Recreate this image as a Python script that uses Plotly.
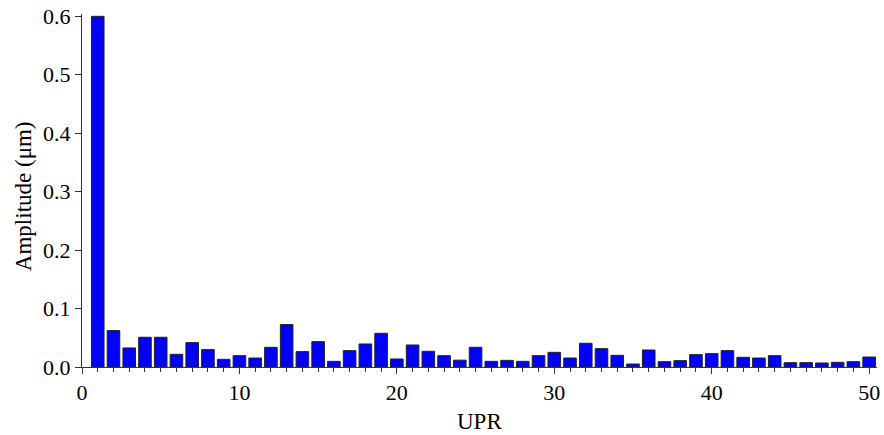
import plotly.graph_objects as go

upr = list(range(1, 51))
amplitude = [
    0.600, 0.0623, 0.0326, 0.0509, 0.0509, 0.0217, 0.0417, 0.0297, 0.0131, 0.0194,
    0.0154, 0.0337, 0.0726, 0.0263, 0.0434, 0.0097, 0.0280, 0.0394, 0.0577, 0.0137,
    0.0377, 0.0269, 0.0194, 0.0117, 0.0337, 0.0097, 0.0114, 0.0097, 0.0194, 0.0251,
    0.0154, 0.0406, 0.0314, 0.0200, 0.0051, 0.0291, 0.0091, 0.0109, 0.0211, 0.0229,
    0.0280, 0.0166, 0.0154, 0.0194, 0.0074, 0.0074, 0.0069, 0.0080, 0.0091, 0.0171,
]
x_ticks = [0, 10, 20, 30, 40, 50]
y_ticks = [0.0, 0.1, 0.2, 0.3, 0.4, 0.5, 0.6]
x_title = "UPR"
y_title = "Amplitude (μm)"

fig = go.Figure(go.Bar(
    x=upr, y=amplitude, width=0.8,
    marker=dict(color="#0000FF", line=dict(color="#222222", width=1)),
))

family = "Liberation Serif, Times New Roman, serif"
font = dict(family=family, size=22, color="black")

fig.update_layout(
    width=884, height=435,
    margin=dict(l=82, r=7, t=14, b=68),
    paper_bgcolor="white", plot_bgcolor="white",
    font=font, showlegend=False,
    xaxis=dict(
        range=[0, 50.5], tickvals=x_ticks, ticks="outside", ticklen=6, tickwidth=1,
        tickcolor="#333", showline=True, linecolor="#333", linewidth=1,
        showgrid=False, zeroline=False, automargin=False,
        minor=dict(dtick=1, tick0=0, ticks="outside", ticklen=4, tickcolor="#333", showgrid=False),
    ),
    yaxis=dict(
        range=[0, 0.604], tickvals=y_ticks, tickformat=".1f", ticks="outside", ticklen=6,
        tickwidth=1, tickcolor="#333", showline=True, linecolor="#333", linewidth=1,
        showgrid=False, zeroline=False, automargin=False,
    ),
    annotations=[
        dict(text=x_title, xref="paper", yref="paper", x=0.5, y=0, xanchor="center",
             yanchor="middle", yshift=-54, showarrow=False,
             font=dict(family=family, size=23, color="black")),
        dict(text=y_title, xref="paper", yref="paper", x=0, y=0.4826, xanchor="center",
             yanchor="middle", xshift=-58.5, textangle=-90, showarrow=False,
             font=dict(family=family, size=23, color="black")),
    ],
)

fig.write_html(
    "out.html",
    config={"displayModeBar": False},
    post_script="document.body.style.margin='0';document.documentElement.style.overflow='hidden';",
)
